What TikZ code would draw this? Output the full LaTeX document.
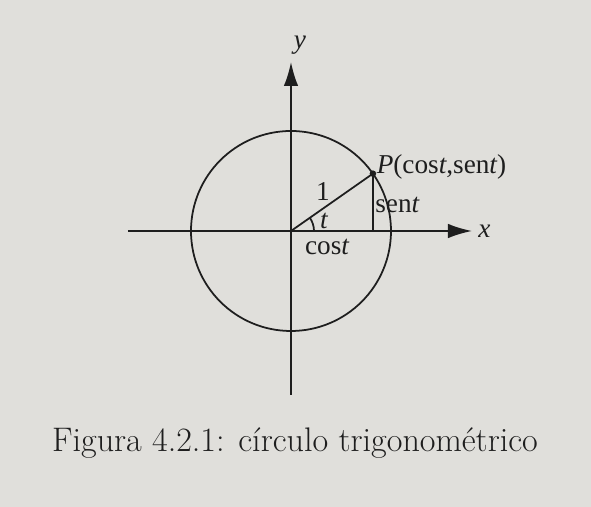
\documentclass[tikz,border=0pt]{standalone}
\usepackage{fontspec}
\newfontfamily\labelfont{Liberation Serif}
\usepackage{tikz}
\usetikzlibrary{arrows.meta, positioning, calc}
\definecolor{paper}{RGB}{224, 223, 219}
\definecolor{ink}{RGB}{30, 30, 30}

\begin{document}
\begin{tikzpicture}[
  axis/.style={-{Latex[length=0.48cm, width=0.29cm]}, line width=1pt, color=ink},
  thinline/.style={line width=1pt, color=ink},
  lbl/.style={font=\labelfont\fontsize{15.5}{17}\selectfont, text=ink, inner sep=0pt},
  every node/.style={inner sep=2pt}
]

% Page
\fill[paper] (-5.82,-5.52) rectangle (6.0,4.62);
\useasboundingbox (-5.82,-5.52) rectangle (6.0,4.62);

% Axis ends
\coordinate (origin) at (0,0);
\coordinate (xmin) at (-3.26,0);
\coordinate (xmax) at (3.62,0);
\coordinate (ymin) at (0,-3.28);
\coordinate (ymax) at (0,3.38);

% Point on the circle
\coordinate (P) at (35:2);
\coordinate (foot) at (P |- origin);

% Unit circle
\draw[thinline] (origin) circle (2);

% Axes
\draw[axis] (xmin) -- (xmax);
\draw[axis] (ymin) -- (ymax);
\node[lbl, right=0.12cm of xmax] (xlabel) {\itshape x};
\node[lbl, above right=0.15cm and 0.05cm of ymax] (ylabel) {\itshape y};

% Radius, sine and angle
\draw[thinline] (origin) -- (P);
\draw[thinline] (P) -- (foot);
\draw[thinline] (0.46,0) arc (0:35:0.46);
\fill[ink] (P) circle (0.065);

% Labels
\node[lbl, anchor=base west, xshift=2pt] (plabel) at (P) {\itshape P\upshape(cos\itshape t\upshape,sen\itshape t\upshape)};
\node[lbl] (one) at (0.64,0.78) {1};
\node[lbl] (angle) at (0.66,0.2) {\itshape t};
\node[lbl] (cos) at (0.72,-0.32) {cos\itshape t};
\node[lbl, anchor=west] (sen) at (1.68,0.52) {sen\itshape t};

% Caption
\node[font=\fontsize{19.4}{22}\selectfont, text=ink] (caption) at (0.08,-4.24) {Figura 4.2.1: círculo trigonométrico};

\end{tikzpicture}
\end{document}
